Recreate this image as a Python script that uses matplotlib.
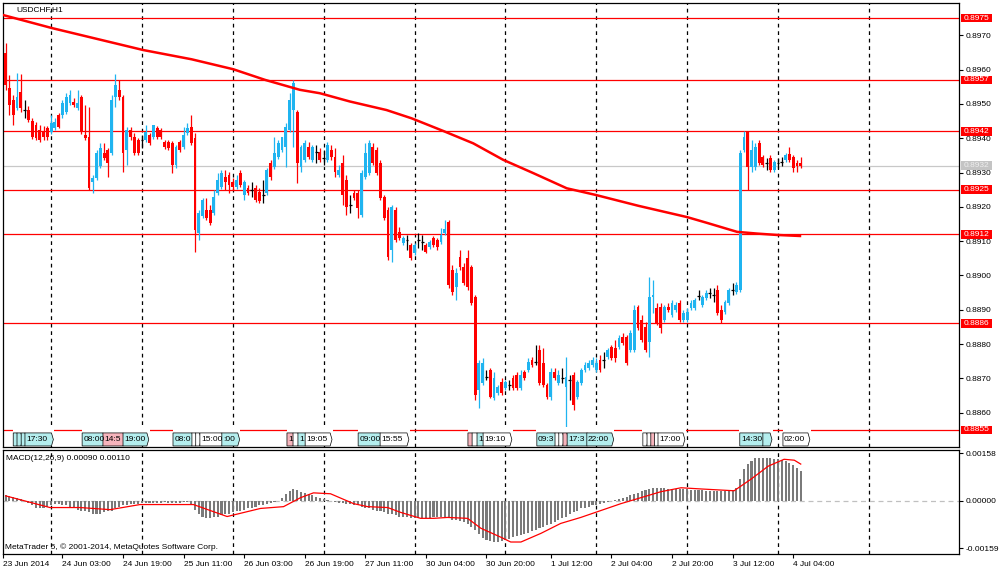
import matplotlib
matplotlib.use("Agg")
import matplotlib.pyplot as plt
import matplotlib.transforms as mtransforms
from matplotlib.patches import Polygon, Rectangle

plt.rcParams["font.family"] = ["Liberation Sans", "DejaVu Sans"]
plt.rcParams["font.size"] = 6

# USDCHF H1 candles, first bar 23 Jun 2014 12:00
opens = [
    0.89649, 0.89546, 0.89512, 0.89488, 0.89535, 0.89482, 0.89482, 0.89450, 0.89439, 0.89424,
    0.89421, 0.89430, 0.89418, 0.89430, 0.89468, 0.89468, 0.89477, 0.89503, 0.89506, 0.89488,
    0.89520, 0.89409, 0.89404, 0.89272, 0.89284, 0.89319, 0.89357, 0.89366, 0.89357, 0.89520,
    0.89541, 0.89520, 0.89366, 0.89424, 0.89404, 0.89395, 0.89395, 0.89395, 0.89409, 0.89404,
    0.89430, 0.89424, 0.89389, 0.89389, 0.89386, 0.89322, 0.89389, 0.89375, 0.89415, 0.89433,
    0.89401, 0.89124, 0.89173, 0.89191, 0.89191, 0.89182, 0.89240, 0.89258, 0.89287, 0.89293,
    0.89272, 0.89258, 0.89299, 0.89235, 0.89255, 0.89249, 0.89255, 0.89243, 0.89235, 0.89240,
    0.89328, 0.89316, 0.89345, 0.89366, 0.89375, 0.89424, 0.89482, 0.89477, 0.89316, 0.89337,
    0.89375, 0.89337, 0.89360, 0.89360, 0.89342, 0.89337, 0.89366, 0.89345, 0.89293, 0.89328,
    0.89278, 0.89205, 0.89240, 0.89240, 0.89176, 0.89287, 0.89299, 0.89375, 0.89366, 0.89328,
    0.89229, 0.89191, 0.89074, 0.89191, 0.89127, 0.89095, 0.89103, 0.89089, 0.89066, 0.89103,
    0.89098, 0.89089, 0.89083, 0.89109, 0.89103, 0.89098, 0.89124, 0.89156, 0.89016, 0.88966,
    0.89054, 0.89025, 0.89051, 0.89025, 0.88937, 0.88666, 0.88687, 0.88704, 0.88724, 0.88643,
    0.88657, 0.88689, 0.88672, 0.88681, 0.88701, 0.88710, 0.88672, 0.88719, 0.88724, 0.88754,
    0.88748, 0.88783, 0.88745, 0.88681, 0.88646, 0.88719, 0.88687, 0.88701, 0.88675, 0.88695,
    0.88710, 0.88646, 0.88687, 0.88724, 0.88730, 0.88739, 0.88724, 0.88754, 0.88754, 0.88762,
    0.88792, 0.88789, 0.88792, 0.88821, 0.88821, 0.88783, 0.88783, 0.88908, 0.88870, 0.88850,
    0.88806, 0.88937, 0.88905, 0.88908, 0.88870, 0.88908, 0.88885, 0.88899, 0.88920, 0.88870,
    0.88870, 0.88905, 0.88905, 0.88940, 0.88914, 0.88934, 0.88949, 0.88943, 0.88958, 0.88899,
    0.88894, 0.88920, 0.88958, 0.88952, 0.88958, 0.89366, 0.89418, 0.89316, 0.89316, 0.89386,
    0.89345, 0.89328, 0.89342, 0.89307, 0.89328, 0.89331, 0.89337, 0.89354, 0.89345, 0.89328,
    0.89328,
]
highs = [
    0.89678, 0.89584, 0.89526, 0.89590, 0.89587, 0.89512, 0.89494, 0.89459, 0.89447, 0.89439,
    0.89436, 0.89436, 0.89468, 0.89459, 0.89474, 0.89512, 0.89532, 0.89541, 0.89517, 0.89541,
    0.89526, 0.89497, 0.89491, 0.89293, 0.89366, 0.89386, 0.89386, 0.89372, 0.89526, 0.89587,
    0.89570, 0.89526, 0.89433, 0.89433, 0.89415, 0.89401, 0.89409, 0.89439, 0.89415, 0.89439,
    0.89436, 0.89430, 0.89395, 0.89395, 0.89392, 0.89380, 0.89395, 0.89433, 0.89444, 0.89468,
    0.89415, 0.89191, 0.89226, 0.89226, 0.89205, 0.89249, 0.89299, 0.89307, 0.89307, 0.89302,
    0.89284, 0.89293, 0.89307, 0.89278, 0.89264, 0.89272, 0.89264, 0.89255, 0.89278, 0.89313,
    0.89337, 0.89404, 0.89395, 0.89404, 0.89444, 0.89532, 0.89570, 0.89482, 0.89380, 0.89395,
    0.89389, 0.89380, 0.89380, 0.89372, 0.89366, 0.89389, 0.89380, 0.89372, 0.89322, 0.89351,
    0.89293, 0.89235, 0.89249, 0.89249, 0.89307, 0.89386, 0.89395, 0.89386, 0.89375, 0.89337,
    0.89235, 0.89200, 0.89205, 0.89200, 0.89141, 0.89115, 0.89118, 0.89095, 0.89095, 0.89124,
    0.89118, 0.89095, 0.89103, 0.89115, 0.89109, 0.89138, 0.89162, 0.89162, 0.89031, 0.89022,
    0.89074, 0.89036, 0.89074, 0.89031, 0.88943, 0.88754, 0.88759, 0.88724, 0.88730, 0.88719,
    0.88681, 0.88701, 0.88695, 0.88695, 0.88710, 0.88719, 0.88724, 0.88724, 0.88759, 0.88762,
    0.88797, 0.88797, 0.88789, 0.88687, 0.88730, 0.88730, 0.88724, 0.88730, 0.88762, 0.88710,
    0.88719, 0.88695, 0.88730, 0.88748, 0.88754, 0.88762, 0.88759, 0.88768, 0.88777, 0.88789,
    0.88797, 0.88812, 0.88826, 0.88832, 0.88826, 0.88841, 0.88914, 0.88914, 0.88885, 0.88864,
    0.88996, 0.88987, 0.88920, 0.88920, 0.88914, 0.88920, 0.88929, 0.88923, 0.88929, 0.88899,
    0.88905, 0.88929, 0.88934, 0.88958, 0.88943, 0.88958, 0.88963, 0.88963, 0.88972, 0.88914,
    0.88929, 0.88963, 0.88978, 0.88981, 0.89366, 0.89421, 0.89421, 0.89395, 0.89386, 0.89395,
    0.89351, 0.89342, 0.89351, 0.89337, 0.89342, 0.89345, 0.89357, 0.89375, 0.89351, 0.89337,
    0.89345,
]
lows = [
    0.89541, 0.89468, 0.89439, 0.89482, 0.89477, 0.89459, 0.89447, 0.89398, 0.89395, 0.89389,
    0.89395, 0.89395, 0.89412, 0.89424, 0.89430, 0.89459, 0.89471, 0.89497, 0.89491, 0.89482,
    0.89412, 0.89395, 0.89249, 0.89240, 0.89278, 0.89313, 0.89337, 0.89287, 0.89351, 0.89491,
    0.89512, 0.89302, 0.89322, 0.89395, 0.89351, 0.89351, 0.89372, 0.89389, 0.89380, 0.89398,
    0.89398, 0.89398, 0.89369, 0.89366, 0.89299, 0.89313, 0.89360, 0.89369, 0.89409, 0.89380,
    0.89068, 0.89103, 0.89168, 0.89162, 0.89147, 0.89176, 0.89235, 0.89252, 0.89249, 0.89240,
    0.89249, 0.89252, 0.89258, 0.89220, 0.89235, 0.89229, 0.89214, 0.89211, 0.89211, 0.89235,
    0.89278, 0.89310, 0.89340, 0.89360, 0.89316, 0.89418, 0.89375, 0.89270, 0.89302, 0.89331,
    0.89340, 0.89331, 0.89328, 0.89331, 0.89322, 0.89331, 0.89337, 0.89287, 0.89287, 0.89205,
    0.89176, 0.89182, 0.89220, 0.89168, 0.89170, 0.89281, 0.89293, 0.89322, 0.89293, 0.89220,
    0.89162, 0.89045, 0.89039, 0.89098, 0.89103, 0.89089, 0.89074, 0.89045, 0.89060, 0.89080,
    0.89074, 0.89066, 0.89077, 0.89083, 0.89074, 0.89092, 0.89118, 0.88963, 0.88943, 0.88929,
    0.89016, 0.88972, 0.88958, 0.88914, 0.88637, 0.88614, 0.88681, 0.88695, 0.88643, 0.88637,
    0.88652, 0.88652, 0.88666, 0.88666, 0.88666, 0.88666, 0.88666, 0.88695, 0.88719, 0.88733,
    0.88739, 0.88681, 0.88675, 0.88640, 0.88637, 0.88695, 0.88681, 0.88687, 0.88544, 0.88637,
    0.88608, 0.88640, 0.88681, 0.88719, 0.88724, 0.88733, 0.88719, 0.88719, 0.88730, 0.88757,
    0.88754, 0.88748, 0.88786, 0.88797, 0.88739, 0.88777, 0.88777, 0.88841, 0.88806, 0.88777,
    0.88762, 0.88891, 0.88856, 0.88832, 0.88864, 0.88894, 0.88879, 0.88894, 0.88864, 0.88864,
    0.88864, 0.88899, 0.88899, 0.88929, 0.88908, 0.88929, 0.88934, 0.88923, 0.88885, 0.88861,
    0.88888, 0.88914, 0.88943, 0.88946, 0.88952, 0.89360, 0.89249, 0.89302, 0.89307, 0.89322,
    0.89316, 0.89307, 0.89302, 0.89302, 0.89313, 0.89319, 0.89331, 0.89331, 0.89302, 0.89302,
    0.89313,
]
closes = [
    0.89555, 0.89497, 0.89468, 0.89520, 0.89488, 0.89482, 0.89453, 0.89404, 0.89401, 0.89395,
    0.89404, 0.89404, 0.89444, 0.89447, 0.89433, 0.89503, 0.89520, 0.89526, 0.89497, 0.89503,
    0.89418, 0.89401, 0.89255, 0.89284, 0.89357, 0.89372, 0.89342, 0.89328, 0.89512, 0.89555,
    0.89520, 0.89357, 0.89424, 0.89404, 0.89357, 0.89357, 0.89395, 0.89418, 0.89386, 0.89439,
    0.89404, 0.89404, 0.89375, 0.89372, 0.89322, 0.89375, 0.89366, 0.89409, 0.89430, 0.89386,
    0.89133, 0.89182, 0.89220, 0.89168, 0.89153, 0.89229, 0.89278, 0.89299, 0.89272, 0.89264,
    0.89258, 0.89278, 0.89264, 0.89272, 0.89240, 0.89249, 0.89220, 0.89217, 0.89235, 0.89307,
    0.89287, 0.89357, 0.89386, 0.89404, 0.89433, 0.89512, 0.89561, 0.89328, 0.89375, 0.89386,
    0.89345, 0.89375, 0.89360, 0.89337, 0.89342, 0.89380, 0.89345, 0.89302, 0.89307, 0.89235,
    0.89200, 0.89205, 0.89226, 0.89197, 0.89299, 0.89357, 0.89386, 0.89328, 0.89299, 0.89226,
    0.89168, 0.89054, 0.89200, 0.89103, 0.89109, 0.89109, 0.89103, 0.89051, 0.89089, 0.89103,
    0.89098, 0.89068, 0.89098, 0.89089, 0.89083, 0.89118, 0.89135, 0.88972, 0.88952, 0.89007,
    0.89025, 0.88978, 0.88966, 0.88920, 0.88652, 0.88745, 0.88745, 0.88704, 0.88646, 0.88701,
    0.88675, 0.88657, 0.88689, 0.88681, 0.88672, 0.88672, 0.88710, 0.88701, 0.88748, 0.88739,
    0.88748, 0.88687, 0.88681, 0.88646, 0.88719, 0.88701, 0.88710, 0.88701, 0.88704, 0.88695,
    0.88622, 0.88689, 0.88724, 0.88739, 0.88745, 0.88754, 0.88745, 0.88724, 0.88754, 0.88783,
    0.88759, 0.88759, 0.88818, 0.88803, 0.88745, 0.88832, 0.88899, 0.88847, 0.88812, 0.88783,
    0.88937, 0.88943, 0.88861, 0.88847, 0.88908, 0.88899, 0.88920, 0.88914, 0.88870, 0.88891,
    0.88894, 0.88920, 0.88929, 0.88940, 0.88937, 0.88949, 0.88949, 0.88943, 0.88891, 0.88870,
    0.88923, 0.88958, 0.88958, 0.88972, 0.89357, 0.89404, 0.89316, 0.89366, 0.89375, 0.89328,
    0.89322, 0.89328, 0.89307, 0.89331, 0.89328, 0.89331, 0.89351, 0.89337, 0.89313, 0.89319,
    0.89319,
]

# moving average, read at a number of bars
ma_idx = [-0.7, 12.2, 36.3, 49.1, 60.1, 68.5, 77.7, 83.0, 90.9, 100.6, 107.2, 115.6,
          123.5, 131.4, 139.4, 148.2, 155.7, 167.1, 180.0, 185.3, 193.2, 198.5,
          203.7, 209.8]
ma_val = [0.89759, 0.89721, 0.89657, 0.89630, 0.89601, 0.89570, 0.89541, 0.89531,
          0.89507, 0.89482, 0.89458, 0.89421, 0.89385, 0.89337, 0.89298, 0.89254,
          0.89235, 0.89203, 0.89170, 0.89153, 0.89127, 0.89122, 0.89118, 0.89115]

# MACD main (histogram), units of 1e-5
macd_e5 = [
    20, 16, 13, 10, 7, 0, -7, -13, -23, -26, -23, -20, -16, -10, -10,
    -13, -16, -23, -26, -30, -33, -36, -39, -43, -43, -43, -39, -36, -33,
    -26, -20, -16, -13, -10, -10, -10,
    -7, -7, -7, -7, -7, -7, -3, -7, -7, -7, -7, -3, -3,
    -13, -30, -43, -53, -59, -59, -56,
    -53, -49, -46, -43, -39, -36, -33, -30, -26, -23, -20, -16, -13,
    -10, -7, -3, 0,
    10, 23, 33, 39, 36,
    30, 26, 23, 20, 13, 10, 7, 3, 0,
    -3, -7, -7, -10, -10,
    -13, -16, -20, -23, -26, -30, -33, -36, -39,
    -43, -46, -49, -53, -56, -56, -59, -59,
    -59, -59, -59, -59, -56, -56, -56, -56, -59, -63, -66, -69, -72, -79,
    -89, -99, -112, -125, -132, -135, -138, -138, -135,
    -132, -128, -122, -118, -115, -112, -109, -102, -99,
    -92, -89, -82, -79, -72, -66, -59, -53, -46, -39,
    -33, -26, -23, -20, -16, -13, -10, -7, -3, 0,
    3, 7, 10, 13, 20, 23, 26, 33,
    36, 39, 43, 43, 43, 43, 39, 39, 39, 39, 39, 39,
    36, 36, 36, 36, 33, 33, 33, 33, 33, 33, 36, 36,
    43, 72,
    105, 122, 132, 141, 141, 141,
    141, 141, 138, 138, 135, 132, 125, 118, 109, 99,
]
# signal line, units of 1e-5
signal_idx = [0, 11.7, 19.7, 27.6, 35.5, 49.6, 58.5, 67.3, 73.4, 77.9, 81.3, 85.8,
              91.9, 95.6, 100.9, 104.3, 109.6, 113.1, 116.7, 122.0, 125.5, 130.8,
              133.4, 136.1, 141.4, 146.6, 151.9, 157.2, 162.5, 167.8, 173.1, 178.4,
              183.7, 192.4, 196.9, 201.4, 205.6, 208.3, 210]
signal_e5 = [16, -23, -23, -30, -13, -13, -53, -26, -20, 10, 26, 23,
             -10, -20, -23, -39, -59, -59, -56, -59, -92, -122,
             -138, -138, -109, -76, -56, -33, -10, 10, 30, 43,
             39, 33, 72, 115, 138, 135, 122]

levels = [0.8975, 0.8957, 0.8942, 0.8925, 0.8912, 0.8886, 0.8855]
last_price = 0.8932
price_ticks = [0.8860, 0.8870, 0.8880, 0.8890, 0.8900, 0.8910, 0.8920,
               0.8930, 0.8940, 0.8950, 0.8960, 0.8970]
day_starts = [12, 36, 60, 84, 108, 132, 156, 180, 204, 228]
date_ticks = [-0.7, 15, 31, 47, 63, 79, 95, 111, 127, 144, 160, 176, 192, 208]
date_labels = ["23 Jun 2014", "24 Jun 03:00", "24 Jun 19:00", "25 Jun 11:00",
               "26 Jun 03:00", "26 Jun 19:00", "27 Jun 11:00", "30 Jun 04:00",
               "30 Jun 20:00", "1 Jul 12:00", "2 Jul 04:00", "2 Jul 20:00",
               "3 Jul 12:00", "4 Jul 04:00"]

# calendar events: start bar, width in bars, label, kind
events = [
    (2.0, 1.0, "", "c"), (3.0, 1.0, "", "c"), (4.1, 1.0, "", "c"),
    (5.1, 7.0, "17:30", "c"), (20.2, 5.5, "08:00", "c"), (25.7, 5.3, "14:5", "p"),
    (31.0, 6.3, "19:00", "c"), (44.2, 5.0, "08:0", "c"), (49.2, 1.0, "", "w"),
    (50.2, 1.0, "", "w"), (51.3, 5.8, "15:00", "w"), (57.1, 4.2, ":00", "c"),
    (74.3, 1.6, "1", "p"), (75.9, 1.3, "", "w"), (77.2, 1.9, "1", "c"),
    (79.1, 6.6, "19:05", "w"), (93.1, 5.8, "09:00", "c"), (98.9, 7.1, "15:55", "w"),
    (122.1, 1.1, "", "p"), (123.2, 1.3, "", "w"), (124.5, 1.6, "1", "c"),
    (126.1, 7.1, "19:10", "w"), (140.3, 4.8, "09:3", "c"), (145.1, 1.0, "", "w"),
    (146.1, 1.0, "", "w"), (147.2, 1.0, "", "p"), (148.3, 5.3, "17:3", "c"),
    (153.5, 6.6, "22:00", "c"), (168.3, 1.0, "", "w"), (169.4, 1.0, "", "w"),
    (170.4, 1.0, "", "p"), (171.4, 0.9, "", "w"), (172.3, 6.6, "17:00", "w"),
    (193.9, 6.1, "14:30", "c"), (200.0, 1.9, "", "c"), (205.3, 6.6, "02:00", "w"),
]
event_colors = {"c": "#b4eeee", "p": "#f6b4bc", "w": "#ffffff"}

BULL = "#1fb4f0"
BEAR = "#ff0000"

n = len(closes)
idx = list(range(n))
cols = [BULL if c > o else (BEAR if c < o else "#000000") for o, c in zip(opens, closes)]

fig = plt.figure(figsize=(10, 5.74), dpi=100)
ax = fig.add_axes([0.003, 1 - 447 / 574, 0.956, 444 / 574])
ax2 = fig.add_axes([0.003, 1 - 554 / 574, 0.956, 104 / 574])

x_lo, x_hi = -0.7, 251.8
for a in (ax, ax2):
    a.set_xlim(x_lo, x_hi)
    for d in day_starts:
        a.axvline(d, color="#000000", lw=0.9, ls=(0, (3, 3)), zorder=1)
    for s in a.spines.values():
        s.set_color("black")
        s.set_linewidth(0.9)

# main price panel
ax.set_ylim(0.8850, 0.89794)
for lv in levels:
    ax.axhline(lv, color="#ff0000", lw=0.9, zorder=2)
ax.axhline(last_price, color="#c8c8c8", lw=0.9, zorder=2)

ax.vlines(idx, lows, highs, colors=cols, linewidth=0.9, zorder=3)
ax.bar(idx, [abs(c - o) for o, c in zip(opens, closes)],
       bottom=[min(o, c) for o, c in zip(opens, closes)],
       width=0.75, color=cols, linewidth=0, zorder=3)
dj = [i for i in idx if opens[i] == closes[i]]
ax.hlines([closes[i] for i in dj], [i - 0.38 for i in dj], [i + 0.38 for i in dj],
          colors="#000000", linewidth=0.9, zorder=3)
ax.plot(ma_idx, ma_val, color="#ff0000", lw=1.8, zorder=4)

# event strip at the bottom of the price panel
yb, yt, ycov = 0.88503, 0.88541, 0.88558
for s, w, lab, kind in events:
    ax.add_patch(Rectangle((s - 0.1, yb), w + 0.8, ycov - yb, fc="white", ec="none", zorder=5))
for s, w, lab, kind in events:
    ym = (yb + yt) / 2
    pts = [(s, yb), (s + w, yb), (s + w + 0.5, ym), (s + w, yt), (s, yt)]
    ax.add_patch(Polygon(pts, closed=True, fc=event_colors[kind], ec="#000000",
                         lw=0.5, zorder=6))
    if lab:
        ax.text(s + 0.3, ym, lab, fontsize=6, va="center", ha="left", zorder=7)

ax.set_xticks([])
ax.yaxis.tick_right()
ax.set_yticks(price_ticks)
ax.set_yticklabels([f"{p:.4f}" for p in price_ticks])
ax.tick_params(axis="y", direction="out", length=3, pad=1.5, labelsize=6)

trans = mtransforms.blended_transform_factory(ax.transAxes, ax.transData)
half = 0.000125
for lv in levels + [last_price]:
    fc = "#c4c4c4" if lv == last_price else "#ff0000"
    tc = "#eeeeee" if lv == last_price else "white"
    ax.add_patch(Rectangle((1.0025, lv - half), 0.0315, 2 * half, transform=trans,
                           fc=fc, ec="none", clip_on=False, zorder=8))
    ax.text(1.0045, lv, f"{lv:.4f}", transform=trans, color=tc, fontsize=6,
            va="center", ha="left", clip_on=False, zorder=9)

# MACD panel
macd = [v * 1e-5 for v in macd_e5]
signal = [v * 1e-5 for v in signal_e5]
ax2.set_ylim(-0.00178, 0.00169)
ax2.axhline(0, color="#c0c0c0", lw=0.9, ls=(0, (4, 3)), zorder=1)
ax2.bar(idx, macd, width=0.55, color="#7a7a7a", linewidth=0, zorder=2)
ax2.plot(signal_idx, signal, color="#ff0000", lw=0.9, zorder=3)
ax2.yaxis.tick_right()
ax2.set_yticks([0.00158, 0.0, -0.00159])
ax2.set_yticklabels(["0.00158", "0.00000", "-0.00159"])
ax2.tick_params(axis="y", direction="out", length=3, pad=1.5, labelsize=6)
ax2.set_xticks(date_ticks)
ax2.set_xticklabels(date_labels)
ax2.tick_params(axis="x", direction="out", length=3, pad=2, labelsize=6)
for t in ax2.get_xticklabels():
    t.set_ha("left")

fig.text(0.016, 1 - 10 / 574, "USDCHF,H1", fontsize=6, va="center", ha="left")
fig.text(0.006, 1 - 458 / 574, "MACD(12,26,9) 0.00090 0.00110", fontsize=6,
         va="center", ha="left")
fig.text(0.005, 1 - 547 / 574, "MetaTrader 5, \u00a9 2001-2014, MetaQuotes Software Corp.",
         fontsize=6, va="center", ha="left")

fig.savefig("out.png", dpi=100, facecolor="white")
